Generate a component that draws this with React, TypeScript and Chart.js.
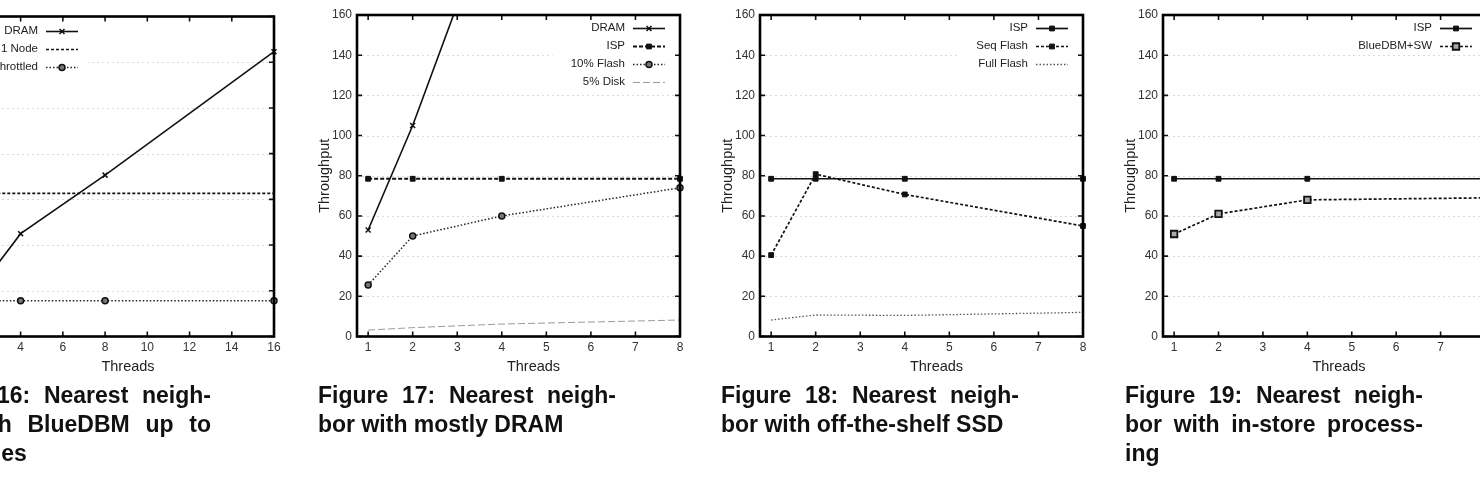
import React, { useEffect, useRef } from "react";
import { Chart, registerables } from "chart.js";
import { drawPoint } from "chart.js/helpers";

Chart.register(...registerables);

const FONT = "'Liberation Sans', Arial, Helvetica, sans-serif";
const INK = "#111111";
const X_TITLE = "Threads";
const Y_TITLE = "Throughput";

// ---------------- data ----------------
// Figure 16
const f16Threads = [1, 2, 4, 8, 16];
const f16Dram = [53, 103, 225, 353, 623];
const f16OneNode = [313, 313, 313, 313, 313];
const f16Throttled = [78, 78, 78, 78, 78];
const f16XTicks = [2, 4, 6, 8, 10, 12, 14, 16];
const f16YTicks = [0, 100, 200, 300, 400, 500, 600, 700];

// Figures 17-19
const threads = [1, 2, 4, 8];
const xTicks = [1, 2, 3, 4, 5, 6, 7, 8];
const yTicks = [0, 20, 40, 60, 80, 100, 120, 140, 160];

const f17Dram = [53, 105, 225, 353];
const f17Isp = [78.5, 78.5, 78.5, 78.5];
const f17Flash10 = [25.6, 50, 60, 74];
const f17Disk5 = [3.2, 4.4, 6.2, 8.2];

const f18Isp = [78.5, 78.5, 78.5, 78.5];
const f18SeqFlash = [40.5, 80.8, 70.7, 55];
const f18FullFlash = [8.2, 10.7, 10.5, 12];

const f19Isp = [78.5, 78.5, 78.5, 78.5];
const f19BlueDbmSw = [51, 61, 68, 69];

const cap16 = ["Figure 16: Nearest neigh-", "bor with BlueDBM up to", "two nodes"];
const cap17 = ["Figure 17: Nearest neigh-", "bor with mostly DRAM"];
const cap18 = ["Figure 18: Nearest neigh-", "bor with off-the-shelf SSD"];
const cap19 = ["Figure 19: Nearest neigh-", "bor with in-store process-", "ing"];

// ---------------- styles ----------------
type St = {
  dash: number[];
  width: number;
  color: string;
  point: string | null;
  radius: number;
  fill: string;
  pbw: number;
};

const ST: Record<string, St> = {
  dram: { dash: [], width: 1.6, color: INK, point: "crossRot", radius: 3.5, fill: INK, pbw: 1.5 },
  ispDashed: { dash: [4, 2], width: 2, color: INK, point: "rect", radius: 3.4, fill: INK, pbw: 1 },
  ispSolid: { dash: [], width: 1.7, color: INK, point: "rect", radius: 3.4, fill: INK, pbw: 1 },
  oneNode: { dash: [3, 2], width: 1.7, color: INK, point: null, radius: 0, fill: INK, pbw: 0 },
  dotCircle: { dash: [1.5, 2], width: 1.5, color: "#222", point: "circle", radius: 3, fill: "#777", pbw: 1.5 },
  disk: { dash: [7, 3], width: 1, color: "#9a9a9a", point: null, radius: 0, fill: "#999", pbw: 0 },
  seq: { dash: [3, 2], width: 1.7, color: INK, point: "rect", radius: 3.4, fill: INK, pbw: 1 },
  full: { dash: [1.5, 2], width: 1.3, color: "#555", point: null, radius: 0, fill: "#555", pbw: 0 },
  sw: { dash: [3, 2], width: 1.7, color: INK, point: "rect", radius: 4.6, fill: "#aaa", pbw: 1.8 },
};

function ds(label: string, xs: number[], ys: number[], st: St) {
  return {
    label,
    data: xs.map((x, i) => ({ x, y: ys[i] })),
    borderColor: st.color,
    borderWidth: st.width,
    borderDash: st.dash,
    pointStyle: st.point || "circle",
    pointRadius: st.point ? st.radius : 0,
    pointBackgroundColor: st.fill,
    pointBorderColor: INK,
    pointBorderWidth: st.pbw,
    fill: false,
    tension: 0,
    clip: { left: 6, right: 6, top: 0, bottom: 6 },
  };
}

// ---------------- layout ----------------
const AXIS_W = 60;
const PAD_R = 12;
const H = 385;
const PLOT_BOTTOM = 336.5;

type Spec = {
  id: string;
  plotLeft: number;
  plotWidth: number;
  top: number;
  xMin: number;
  xMax: number;
  xT: number[];
  yMax: number;
  yT: number[];
  key: { anchor: "left" | "right"; textX: number; firstRow: number };
  datasets: any[];
};

const specs: Spec[] = [
  {
    id: "f16",
    plotLeft: -48,
    plotWidth: 322,
    top: 16.5,
    xMin: 0.75,
    xMax: 16,
    xT: f16XTicks,
    yMax: 700,
    yT: f16YTicks,
    key: { anchor: "left", textX: 86, firstRow: 14.5 },
    datasets: [
      ds("DRAM", f16Threads, f16Dram, ST.dram),
      ds("1 Node", f16Threads, f16OneNode, ST.oneNode),
      ds("Throttled", f16Threads, f16Throttled, ST.dotCircle),
    ],
  },
  {
    id: "f17",
    plotLeft: 357,
    plotWidth: 323,
    top: 15,
    xMin: 0.75,
    xMax: 8,
    xT: xTicks,
    yMax: 160,
    yT: yTicks,
    key: { anchor: "right", textX: 55, firstRow: 13 },
    datasets: [
      ds("DRAM", threads, f17Dram, ST.dram),
      ds("ISP", threads, f17Isp, ST.ispDashed),
      ds("10% Flash", threads, f17Flash10, ST.dotCircle),
      ds("5% Disk", threads, f17Disk5, ST.disk),
    ],
  },
  {
    id: "f18",
    plotLeft: 760,
    plotWidth: 323,
    top: 15,
    xMin: 0.75,
    xMax: 8,
    xT: xTicks,
    yMax: 160,
    yT: yTicks,
    key: { anchor: "right", textX: 55, firstRow: 13 },
    datasets: [
      ds("ISP", threads, f18Isp, ST.ispSolid),
      ds("Seq Flash", threads, f18SeqFlash, ST.seq),
      ds("Full Flash", threads, f18FullFlash, ST.full),
    ],
  },
  {
    id: "f19",
    plotLeft: 1163,
    plotWidth: 322,
    top: 15,
    xMin: 0.75,
    xMax: 8,
    xT: xTicks,
    yMax: 160,
    yT: yTicks,
    key: { anchor: "right", textX: 53, firstRow: 13 },
    datasets: [
      ds("ISP", threads, f19Isp, ST.ispSolid),
      ds("BlueDBM+SW", threads, f19BlueDbmSw, ST.sw),
    ],
  },
];

const captions = [
  { left: -87, lines: cap16 },
  { left: 318, lines: cap17 },
  { left: 721, lines: cap18 },
  { left: 1125, lines: cap19 },
];

// ---------------- plugin: gnuplot look ----------------
const gnuplotLook = {
  id: "gnuplotLook",
  beforeDatasetsDraw(chart: any) {
    const { ctx, chartArea: a, scales } = chart;
    ctx.save();
    ctx.strokeStyle = "rgba(0,0,0,0.15)";
    ctx.lineWidth = 1;
    ctx.setLineDash([2, 3]);
    for (const t of scales.y.ticks) {
      const y = Math.round(scales.y.getPixelForValue(t.value)) + 0.5;
      if (y <= a.top + 2 || y >= a.bottom - 2) continue;
      ctx.beginPath();
      ctx.moveTo(a.left, y);
      ctx.lineTo(a.right, y);
      ctx.stroke();
    }
    ctx.restore();
  },
  afterDatasetsDraw(chart: any, _args: any, opts: any) {
    const { ctx, chartArea: a, scales } = chart;
    const key = opts.key;
    ctx.save();
    // ---- key ----
    ctx.font = `11.5px ${FONT}`;
    const sets = chart.data.datasets;
    const textRight = key.anchor === "left" ? a.left + key.textX : a.right - key.textX;
    const maxW = Math.max(...sets.map((d: any) => ctx.measureText(d.label).width));
    const ROW = 18;
    const SAMPLE = 32;
    const boxL = textRight - maxW - 18;
    const boxR = textRight + 8 + SAMPLE + 10;
    const boxT = a.top + 3;
    const boxB = a.top + key.firstRow + (sets.length - 1) * ROW + 9;
    ctx.fillStyle = "#ffffff";
    ctx.fillRect(boxL, boxT, boxR - boxL, boxB - boxT);
    sets.forEach((d: any, i: number) => {
      const y = a.top + key.firstRow + i * ROW;
      ctx.fillStyle = "#222";
      ctx.textAlign = "right";
      ctx.textBaseline = "middle";
      ctx.fillText(d.label, textRight, y);
      const x0 = textRight + 8;
      const x1 = x0 + SAMPLE;
      ctx.strokeStyle = d.borderColor;
      ctx.lineWidth = d.borderWidth;
      ctx.setLineDash(d.borderDash);
      ctx.beginPath();
      ctx.moveTo(x0, Math.round(y) + 0.5);
      ctx.lineTo(x1, Math.round(y) + 0.5);
      ctx.stroke();
      ctx.setLineDash([]);
      if (d.pointRadius > 0) {
        ctx.fillStyle = d.pointBackgroundColor;
        ctx.strokeStyle = d.pointBorderColor;
        ctx.lineWidth = d.pointBorderWidth;
        drawPoint(
          ctx,
          { pointStyle: d.pointStyle, rotation: 0, radius: d.pointRadius, borderWidth: d.pointBorderWidth },
          (x0 + x1) / 2,
          Math.round(y) + 0.5
        );
      }
    });
    // ---- inward ticks ----
    ctx.strokeStyle = INK;
    ctx.lineWidth = 1.6;
    ctx.setLineDash([]);
    const TL = 5;
    for (const t of scales.x.ticks) {
      const x = scales.x.getPixelForValue(t.value);
      ctx.beginPath();
      ctx.moveTo(x, a.bottom);
      ctx.lineTo(x, a.bottom - TL);
      ctx.moveTo(x, a.top);
      ctx.lineTo(x, a.top + TL);
      ctx.stroke();
    }
    for (const t of scales.y.ticks) {
      const y = scales.y.getPixelForValue(t.value);
      ctx.beginPath();
      ctx.moveTo(a.left, y);
      ctx.lineTo(a.left + TL, y);
      ctx.moveTo(a.right, y);
      ctx.lineTo(a.right - TL, y);
      ctx.stroke();
    }
    // ---- frame ----
    ctx.lineWidth = 2.6;
    ctx.strokeStyle = "#000";
    ctx.strokeRect(a.left, a.top, a.right - a.left, a.bottom - a.top);
    // ---- x title ----
    ctx.font = `14.5px ${FONT}`;
    ctx.fillStyle = "#222";
    ctx.textAlign = "center";
    ctx.textBaseline = "middle";
    ctx.fillText(X_TITLE, (a.left + a.right) / 2 + 15, 367);
    ctx.restore();
  },
};

function buildConfig(s: Spec): any {
  const tickFont = { size: 12, family: FONT };
  return {
    type: "line",
    data: { datasets: s.datasets },
    plugins: [gnuplotLook],
    options: {
      responsive: false,
      animation: false,
      events: [],
      layout: { padding: { left: 0, top: s.top, right: PAD_R, bottom: 0 } },
      plugins: {
        legend: { display: false },
        tooltip: { enabled: false },
        gnuplotLook: { key: s.key },
      },
      scales: {
        x: {
          type: "linear",
          min: s.xMin,
          max: s.xMax,
          afterBuildTicks: (sc: any) => {
            sc.ticks = s.xT.map((v) => ({ value: v }));
          },
          afterFit: (sc: any) => {
            sc.height = H - PLOT_BOTTOM;
          },
          grid: { display: false, drawTicks: false },
          border: { display: false },
          ticks: { font: tickFont, color: "#333", padding: 4, maxRotation: 0, autoSkip: false },
        },
        y: {
          type: "linear",
          min: 0,
          max: s.yMax,
          afterBuildTicks: (sc: any) => {
            sc.ticks = s.yT.map((v) => ({ value: v }));
          },
          afterFit: (sc: any) => {
            sc.width = AXIS_W;
          },
          grid: { display: false, drawTicks: false },
          border: { display: false },
          ticks: { font: tickFont, color: "#333", padding: 5, autoSkip: false },
          title: {
            display: true,
            text: Y_TITLE,
            color: "#222",
            font: { size: 14.5, family: FONT, lineHeight: 1.2 },
            padding: { top: 19.3, bottom: 0 },
          },
        },
      },
    },
  };
}

function Panel({ spec }: { spec: Spec }) {
  const ref = useRef<HTMLCanvasElement>(null);
  const W = AXIS_W + spec.plotWidth + PAD_R;
  useEffect(() => {
    if (!ref.current) return;
    const chart = new Chart(ref.current, buildConfig(spec));
    return () => chart.destroy();
  }, [spec]);
  return (
    <canvas
      ref={ref}
      width={W}
      height={H}
      style={{
        position: "absolute",
        left: spec.plotLeft - AXIS_W,
        top: 0,
        width: W,
        height: H,
        display: "block",
      }}
    />
  );
}

export default function App() {
  return (
    <div
      style={{
        position: "fixed",
        left: 0,
        top: 0,
        width: 1480,
        height: 492,
        overflow: "hidden",
        background: "#fff",
      }}
    >
      {specs.map((s) => (
        <Panel key={s.id} spec={s} />
      ))}
      {captions.map((c, ci) => (
        <div
          key={ci}
          style={{
            position: "absolute",
            left: c.left,
            top: 380.5,
            width: 298,
            fontFamily: FONT,
            fontWeight: "bold",
            fontSize: 23,
            lineHeight: "29px",
            color: "#111",
          }}
        >
          {c.lines.map((ln, i) => {
            const last = i === c.lines.length - 1;
            return (
              <div
                key={i}
                style={{
                  textAlign: last ? "left" : "justify",
                  textAlignLast: last ? "left" : "justify",
                }}
              >
                {ln}
              </div>
            );
          })}
        </div>
      ))}
    </div>
  );
}
